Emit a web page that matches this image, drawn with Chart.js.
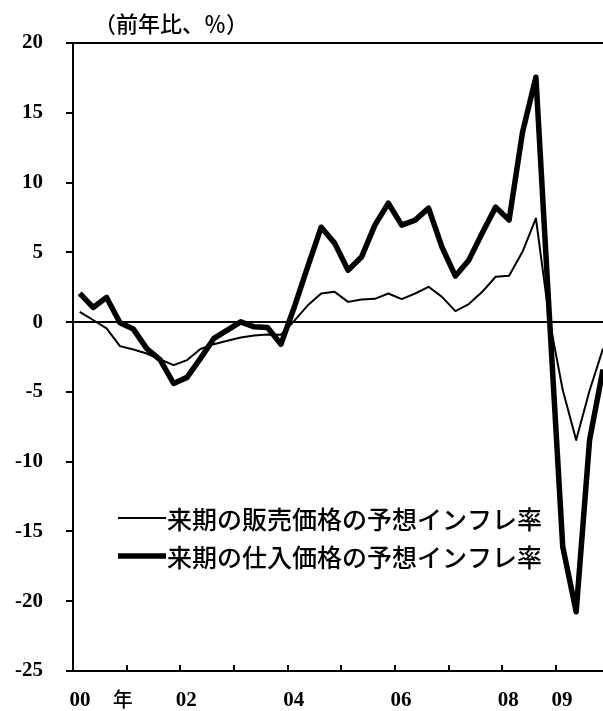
<!DOCTYPE html>
<html>
<head>
<meta charset="utf-8">
<script src="https://cdn.jsdelivr.net/npm/chart.js@4"></script>
<style>
  html, body { margin: 0; padding: 0; background: #fff; }
  #wrap { width: 603px; height: 711px; }
</style>
</head>
<body>
<div id="wrap"><canvas id="c" width="603" height="711"></canvas></div>
<script>
// ---- data (quarterly, 2000Q1 .. 2009Q4) ----
const quarters = [
  '2000Q1','2000Q2','2000Q3','2000Q4','2001Q1','2001Q2','2001Q3','2001Q4',
  '2002Q1','2002Q2','2002Q3','2002Q4','2003Q1','2003Q2','2003Q3','2003Q4',
  '2004Q1','2004Q2','2004Q3','2004Q4','2005Q1','2005Q2','2005Q3','2005Q4',
  '2006Q1','2006Q2','2006Q3','2006Q4','2007Q1','2007Q2','2007Q3','2007Q4',
  '2008Q1','2008Q2','2008Q3','2008Q4','2009Q1','2009Q2','2009Q3','2009Q4'
];
const sellingPriceInflation = [
  0.74, 0.15, -0.45, -1.72, -1.96, -2.25, -2.68, -3.08,
  -2.72, -1.93, -1.58, -1.34, -1.10, -0.96, -0.88, -0.90,
  0.10, 1.20, 2.05, 2.17, 1.45, 1.62, 1.67, 2.05,
  1.65, 2.05, 2.53, 1.81, 0.79, 1.29, 2.17, 3.25,
  3.32, 5.04, 7.43, 0.20, -4.87, -8.45, -4.90, -1.90
];
const purchasePriceInflation = [
  2.06, 1.05, 1.77, -0.05, -0.50, -1.90, -2.70, -4.40,
  -3.96, -2.60, -1.17, -0.57, 0.02, -0.34, -0.38, -1.58,
  1.10, 4.00, 6.80, 5.66, 3.72, 4.66, 6.95, 8.52,
  6.95, 7.31, 8.17, 5.37, 3.30, 4.44, 6.38, 8.24,
  7.31, 13.60, 17.55, 0.50, -16.10, -20.75, -8.45, -3.40
];
const seriesLabels = ['来期の販売価格の予想インフレ率', '来期の仕入価格の予想インフレ率'];
const yTicks = [-25, -20, -15, -10, -5, 0, 5, 10, 15, 20];
const yearTickYears = [2001, 2002, 2003, 2004, 2005, 2006, 2007, 2008, 2009];
const yearLabelYears = [2000, 2002, 2004, 2006, 2008, 2009];
const yearLabels = ['00', '02', '04', '06', '08', '09'];
const unitTitle = '（前年比、％）';
const yearUnit = '年';

// quarter index of the start of a year (boundary between quarters)
function yearStart(y) { return (y - 2000) * 4 - 0.5; }

const toPoints = arr => arr.map((v, i) => ({ x: i, y: v }));

const numFont = 'bold 21px "Liberation Serif", "DejaVu Serif", serif';
const cjkFont = '"Noto Sans CJK JP", "Noto Sans CJK SC", sans-serif';

const decorPlugin = {
  id: 'decor',
  afterDraw(chart) {
    const ctx = chart.ctx;
    const xs = chart.scales.x;
    const bottom = chart.chartArea.bottom;
    ctx.save();
    // inner x tick marks
    ctx.strokeStyle = '#000';
    ctx.lineWidth = 2;
    yearTickYears.forEach(y => {
      const px = Math.round(xs.getPixelForValue(yearStart(y)));
      ctx.beginPath();
      ctx.moveTo(px, bottom);
      ctx.lineTo(px, bottom - 6);
      ctx.stroke();
    });
    // x labels
    ctx.fillStyle = '#000';
    ctx.textBaseline = 'middle';
    ctx.textAlign = 'center';
    ctx.font = numFont;
    yearLabelYears.forEach((y, k) => {
      const px = xs.getPixelForValue(yearStart(y)) + (k === 0 ? 7 : 6);
      ctx.fillText(yearLabels[k], px, bottom + 30);
    });
    ctx.font = '500 20px ' + cjkFont;
    ctx.fillText(yearUnit, xs.getPixelForValue(yearStart(2001)) - 4, bottom + 28);
    // unit title
    ctx.font = '500 22px ' + cjkFont;
    ctx.textAlign = 'left';
    ctx.fillText(unitTitle, 94, 24);
    // legend
    ctx.font = '500 25px ' + cjkFont;
    const rows = [518, 556];
    chart.data.datasets.forEach((ds, i) => {
      const yy = rows[i];
      ctx.lineWidth = ds.borderWidth;
      ctx.lineCap = 'butt';
      ctx.beginPath();
      ctx.moveTo(118, yy);
      ctx.lineTo(166, yy);
      ctx.stroke();
      ctx.fillText(ds.label, 167, yy + 1);
    });
    ctx.restore();
  }
};

new Chart(document.getElementById('c'), {
  type: 'line',
  data: {
    labels: quarters,
    datasets: [
      {
        label: seriesLabels[0],
        data: toPoints(sellingPriceInflation),
        borderColor: '#000',
        borderWidth: 2,
        pointRadius: 0,
        tension: 0,
        borderJoinStyle: 'round',
        fill: false
      },
      {
        label: seriesLabels[1],
        data: toPoints(purchasePriceInflation),
        borderColor: '#000',
        borderWidth: 5.5,
        pointRadius: 0,
        tension: 0,
        borderJoinStyle: 'round',
        fill: false
      }
    ]
  },
  options: {
    responsive: false,
    animation: false,
    events: [],
    layout: { padding: { top: 43, right: 0, left: 0, bottom: 0 } },
    plugins: { legend: { display: false }, tooltip: { enabled: false }, title: { display: false } },
    scales: {
      x: {
        type: 'linear',
        min: -0.5,
        max: 39,
        ticks: { display: false },
        grid: { display: false, drawTicks: false },
        border: { display: true, color: '#000', width: 2 },
        afterFit(scale) { scale.height = 40; }
      },
      y: {
        min: -25,
        max: 20,
        afterBuildTicks(scale) { scale.ticks = yTicks.map(v => ({ value: v })); },
        ticks: {
          color: '#000',
          font: { family: '"Liberation Serif", "DejaVu Serif", serif', size: 21, weight: 'bold' },
          padding: 23,
          callback: v => String(v)
        },
        grid: {
          drawOnChartArea: true,
          drawTicks: true,
          tickLength: 7,
          lineWidth: 2,
          tickWidth: 2,
          tickColor: '#000',
          color: ctx => (ctx.tick && (ctx.tick.value === 0 || ctx.tick.value === 20)) ? '#000' : 'rgba(0,0,0,0)'
        },
        border: { display: true, color: '#000', width: 2 },
        afterFit(scale) { scale.width = 73; }
      }
    }
  },
  plugins: [decorPlugin]
});
</script>
</body>
</html>
